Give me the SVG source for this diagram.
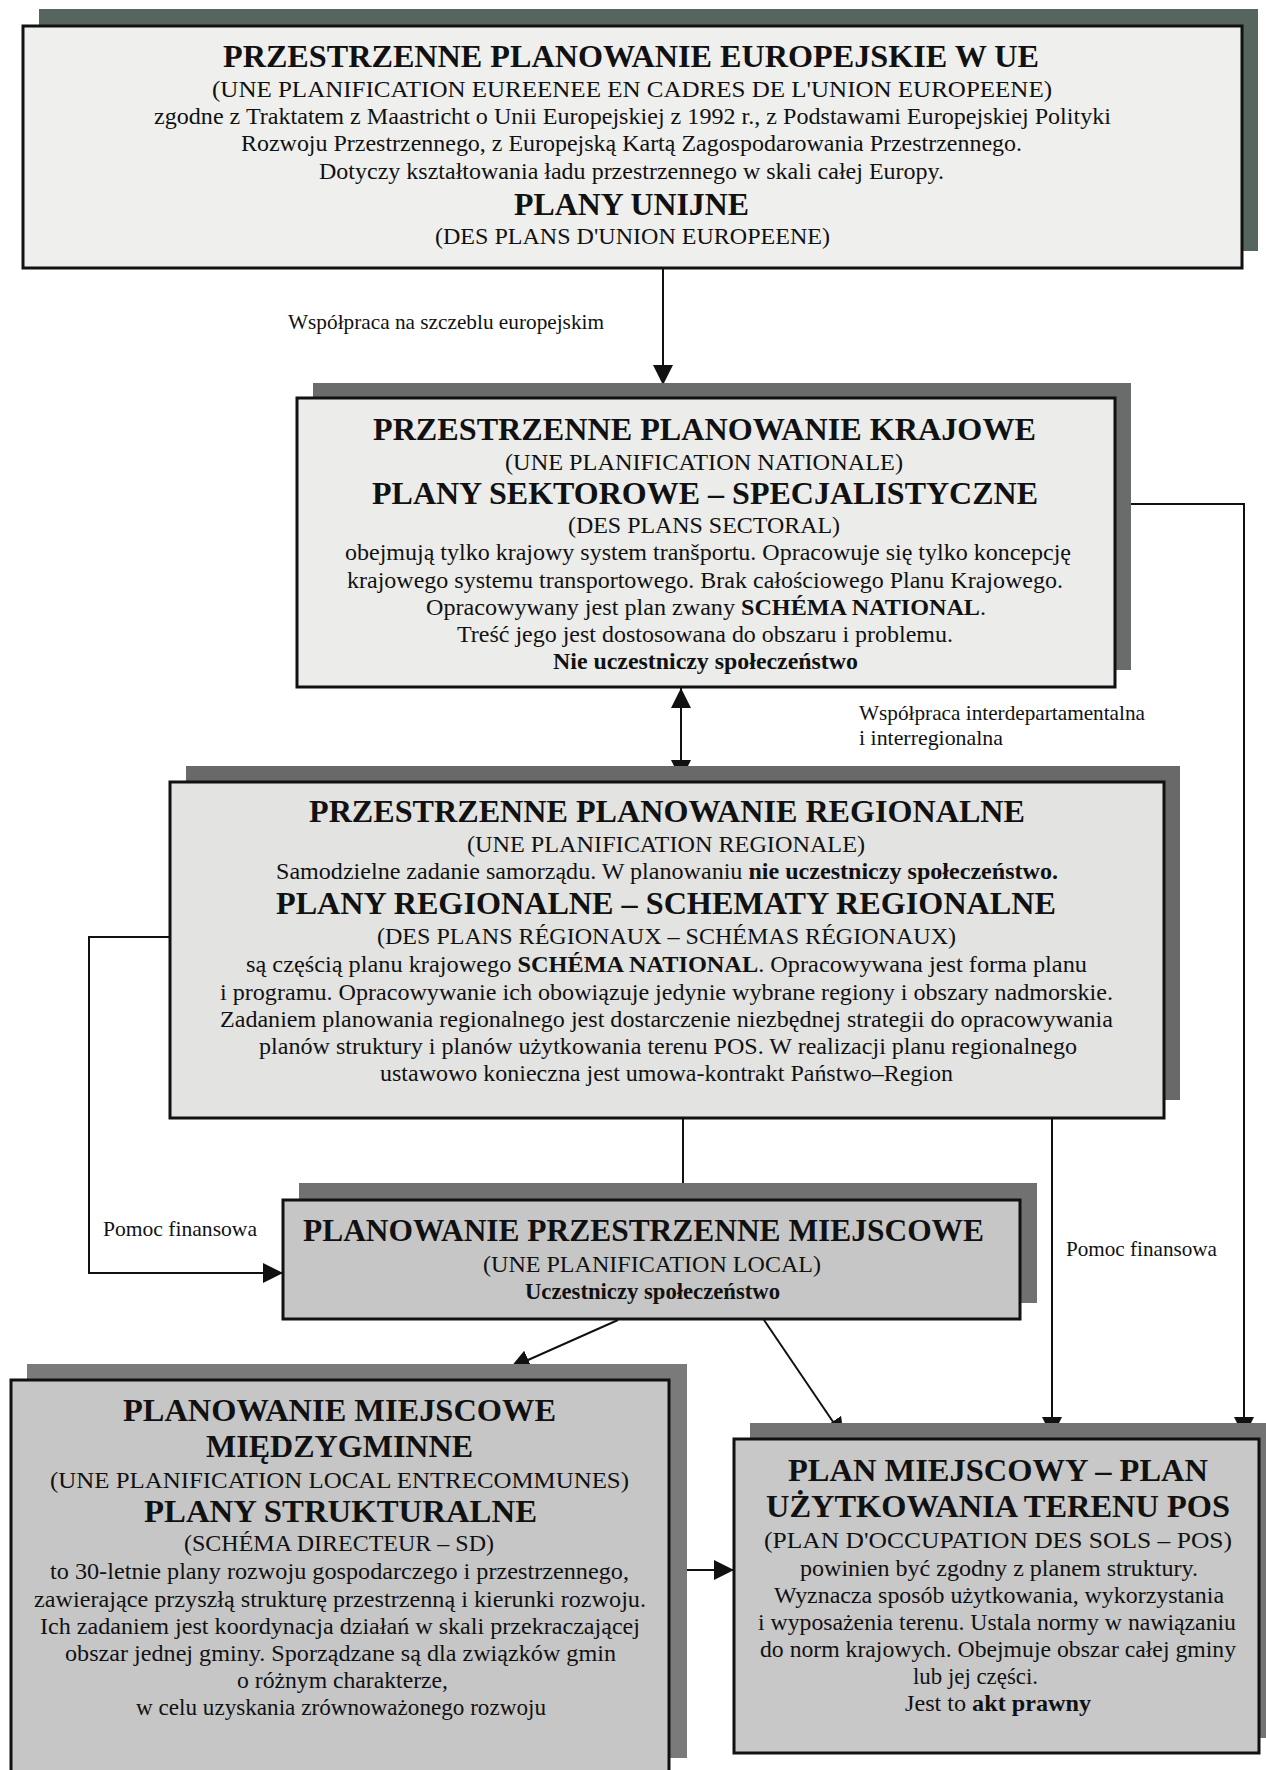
<svg xmlns="http://www.w3.org/2000/svg" width="1266" height="1770" viewBox="0 0 1266 1770">
<defs>
<style>
text{font-family:'Liberation Serif','Times New Roman',Times,serif;fill:#111}
.t{font-size:32px;font-weight:bold}
.b{font-size:24px}
.l{font-size:21px}
.bb{font-weight:bold}
.box{stroke:#111;stroke-width:3}
.c{fill:none;stroke:#111;stroke-width:2}
</style>
<marker id="ah" viewBox="0 0 20 20" refX="20" refY="10" markerWidth="20" markerHeight="20" markerUnits="userSpaceOnUse" orient="auto-start-reverse">
<path d="M0,0 L20,10 L0,20 z" fill="#111"/>
</marker>
</defs>
<rect width="1266" height="1770" fill="#ffffff"/>

<g id="connectors">
<path class="c" d="M663,268 V385" marker-end="url(#ah)"/>
<path class="c" d="M1115,504 H1244 V1437" marker-end="url(#ah)"/>
<path class="c" d="M681,688 V780" marker-start="url(#ah)" marker-end="url(#ah)"/>
<path class="c" d="M170,937 H89 V1273 H283" marker-end="url(#ah)"/>
<path class="c" d="M683,1118 V1212" marker-end="url(#ah)"/>
<path class="c" d="M1052,1118 V1437" marker-end="url(#ah)"/>
<path class="c" d="M618,1320 L510,1368" marker-end="url(#ah)"/>
<path class="c" d="M764,1320 L844,1438" marker-end="url(#ah)"/>
<path class="c" d="M669,1570 H734" marker-end="url(#ah)"/>
<text class="l" x="288" y="329" textLength="316" lengthAdjust="spacingAndGlyphs">Współpraca na szczeblu europejskim</text>
<text class="l" x="859" y="720" textLength="286" lengthAdjust="spacingAndGlyphs">Współpraca interdepartamentalna</text>
<text class="l" x="859" y="745" textLength="144" lengthAdjust="spacingAndGlyphs">i  interregionalna</text>
<text class="l" x="103" y="1236" textLength="154" lengthAdjust="spacingAndGlyphs">Pomoc finansowa</text>
<text class="l" x="1066" y="1256" textLength="151" lengthAdjust="spacingAndGlyphs">Pomoc finansowa</text>
</g>

<g id="node-eu">
<rect x="39" y="9" width="1219" height="242" fill="#56665f"/>
<rect class="box" x="23" y="26" width="1219" height="242" fill="#efefed"/>
<text class="t" x="223" y="67" textLength="816" lengthAdjust="spacingAndGlyphs">PRZESTRZENNE PLANOWANIE EUROPEJSKIE W UE</text>
<text class="b" x="212" y="97" textLength="840" lengthAdjust="spacingAndGlyphs">(UNE  PLANIFICATION  EUREENEE  EN  CADRES  DE L'UNION EUROPEENE)</text>
<text class="b" x="154" y="124" textLength="957" lengthAdjust="spacingAndGlyphs">zgodne z Traktatem z Maastricht o Unii Europejskiej z 1992 r., z Podstawami Europejskiej Polityki</text>
<text class="b" x="241" y="151" textLength="781" lengthAdjust="spacingAndGlyphs">Rozwoju Przestrzennego, z Europejską Kartą Zagospodarowania Przestrzennego.</text>
<text class="b" x="319" y="179" textLength="625" lengthAdjust="spacingAndGlyphs">Dotyczy kształtowania ładu przestrzennego w skali całej Europy.</text>
<text class="t" x="514" y="215" textLength="235" lengthAdjust="spacingAndGlyphs">PLANY UNIJNE</text>
<text class="b" x="435" y="244" textLength="395" lengthAdjust="spacingAndGlyphs">(DES PLANS D'UNION EUROPEENE)</text>
</g>

<g id="node-national">
<rect x="313" y="383" width="818" height="287" fill="#696c6a"/>
<rect class="box" x="297" y="398" width="818" height="289" fill="#ececea"/>
<text class="t" x="373" y="440" textLength="663" lengthAdjust="spacingAndGlyphs">PRZESTRZENNE PLANOWANIE KRAJOWE</text>
<text class="b" x="505" y="470" textLength="398" lengthAdjust="spacingAndGlyphs">(UNE PLANIFICATION NATIONALE)</text>
<text class="t" x="372" y="504" textLength="666" lengthAdjust="spacingAndGlyphs">PLANY SEKTOROWE – SPECJALISTYCZNE</text>
<text class="b" x="568" y="533" textLength="272" lengthAdjust="spacingAndGlyphs">(DES PLANS SECTORAL)</text>
<text class="b" x="345" y="560" textLength="726" lengthAdjust="spacingAndGlyphs">obejmują tylko krajowy system tranšportu. Opracowuje się tylko koncepcję</text>
<text class="b" x="347" y="588" textLength="716" lengthAdjust="spacingAndGlyphs">krajowego systemu transportowego. Brak całościowego Planu Krajowego.</text>
<text class="b" x="426" y="615" textLength="560" lengthAdjust="spacingAndGlyphs">Opracowywany jest plan zwany <tspan class="bb">SCHÉMA NATIONAL</tspan>.</text>
<text class="b" x="457" y="642" textLength="496" lengthAdjust="spacingAndGlyphs">Treść jego jest dostosowana do obszaru i problemu.</text>
<text class="b bb" x="553" y="669" textLength="305" lengthAdjust="spacingAndGlyphs">Nie uczestniczy społeczeństwo</text>
</g>

<g id="node-regional">
<rect x="186" y="766" width="994" height="334" fill="#696969"/>
<rect class="box" x="170" y="782" width="994" height="336" fill="#e3e3e1"/>
<text class="t" x="309" y="822" textLength="716" lengthAdjust="spacingAndGlyphs">PRZESTRZENNE PLANOWANIE REGIONALNE</text>
<text class="b" x="467" y="852" textLength="398" lengthAdjust="spacingAndGlyphs">(UNE PLANIFICATION REGIONALE)</text>
<text class="b" x="276" y="879" textLength="782" lengthAdjust="spacingAndGlyphs">Samodzielne zadanie samorządu. W planowaniu <tspan class="bb">nie uczestniczy społeczeństwo.</tspan></text>
<text class="t" x="276" y="914" textLength="780" lengthAdjust="spacingAndGlyphs">PLANY REGIONALNE – SCHEMATY REGIONALNE</text>
<text class="b" x="377" y="944" textLength="579" lengthAdjust="spacingAndGlyphs">(DES PLANS RÉGIONAUX – SCHÉMAS RÉGIONAUX)</text>
<text class="b" x="246" y="972" textLength="841" lengthAdjust="spacingAndGlyphs">są  częścią planu krajowego <tspan class="bb">SCHÉMA NATIONAL</tspan>. Opracowywana jest forma planu</text>
<text class="b" x="220" y="1000" textLength="893" lengthAdjust="spacingAndGlyphs">i programu. Opracowywanie ich obowiązuje jedynie wybrane regiony i obszary nadmorskie.</text>
<text class="b" x="220" y="1027" textLength="893" lengthAdjust="spacingAndGlyphs">Zadaniem planowania regionalnego jest dostarczenie niezbędnej strategii do opracowywania</text>
<text class="b" x="259" y="1054" textLength="818" lengthAdjust="spacingAndGlyphs">planów struktury i planów użytkowania terenu POS. W realizacji planu regionalnego</text>
<text class="b" x="380" y="1081" textLength="573" lengthAdjust="spacingAndGlyphs">ustawowo konieczna jest umowa-kontrakt Państwo–Region</text>
</g>

<g id="node-local">
<rect x="299" y="1183" width="738" height="120" fill="#717171"/>
<rect class="box" x="283" y="1200" width="737" height="119" fill="#c6c6c6"/>
<text class="t" x="303" y="1241" textLength="681" lengthAdjust="spacingAndGlyphs">PLANOWANIE PRZESTRZENNE MIEJSCOWE</text>
<text class="b" x="483" y="1272" textLength="338" lengthAdjust="spacingAndGlyphs">(UNE  PLANIFICATION  LOCAL)</text>
<text class="b bb" x="525" y="1299" textLength="255" lengthAdjust="spacingAndGlyphs">Uczestniczy społeczeństwo</text>
</g>

<g id="node-intercommunal">
<rect x="27" y="1364" width="660" height="394" fill="#7a7a7a"/>
<rect class="box" x="11" y="1380" width="658" height="410" fill="#c6c6c6"/>
<text class="t" x="123" y="1421" textLength="433" lengthAdjust="spacingAndGlyphs">PLANOWANIE MIEJSCOWE</text>
<text class="t" x="206" y="1457" textLength="267" lengthAdjust="spacingAndGlyphs">MIĘDZYGMINNE</text>
<text class="b" x="50" y="1488" textLength="579" lengthAdjust="spacingAndGlyphs">(UNE  PLANIFICATION  LOCAL ENTRECOMMUNES)</text>
<text class="t" x="144" y="1522" textLength="393" lengthAdjust="spacingAndGlyphs">PLANY  STRUKTURALNE</text>
<text class="b" x="184" y="1551" textLength="310" lengthAdjust="spacingAndGlyphs">(SCHÉMA DIRECTEUR – SD)</text>
<text class="b" x="50" y="1579" textLength="579" lengthAdjust="spacingAndGlyphs">to 30-letnie plany rozwoju gospodarczego i przestrzennego,</text>
<text class="b" x="34" y="1607" textLength="612" lengthAdjust="spacingAndGlyphs">zawierające przyszłą strukturę przestrzenną i kierunki rozwoju.</text>
<text class="b" x="40" y="1634" textLength="600" lengthAdjust="spacingAndGlyphs">Ich zadaniem jest koordynacja działań w skali przekraczającej</text>
<text class="b" x="65" y="1661" textLength="551" lengthAdjust="spacingAndGlyphs">obszar jednej gminy. Sporządzane są dla związków gmin</text>
<text class="b" x="237" y="1688" textLength="211" lengthAdjust="spacingAndGlyphs">o różnym charakterze,</text>
<text class="b" x="136" y="1715" textLength="410" lengthAdjust="spacingAndGlyphs">w celu uzyskania zrównoważonego  rozwoju</text>
</g>

<g id="node-pos">
<rect x="750" y="1423" width="525" height="315" fill="#737373"/>
<rect class="box" x="734" y="1439" width="525" height="314" fill="#c8c8c8"/>
<text class="t" x="788" y="1481" textLength="420" lengthAdjust="spacingAndGlyphs">PLAN  MIEJSCOWY – PLAN</text>
<text class="t" x="766" y="1517" textLength="464" lengthAdjust="spacingAndGlyphs">UŻYTKOWANIA TERENU POS</text>
<text class="b" x="764" y="1548" textLength="468" lengthAdjust="spacingAndGlyphs">(PLAN  D'OCCUPATION  DES  SOLS – POS)</text>
<text class="b" x="800" y="1576" textLength="398" lengthAdjust="spacingAndGlyphs">powinien być zgodny z planem struktury.</text>
<text class="b" x="774" y="1603" textLength="450" lengthAdjust="spacingAndGlyphs">Wyznacza sposób użytkowania, wykorzystania</text>
<text class="b" x="758" y="1630" textLength="478" lengthAdjust="spacingAndGlyphs">i wyposażenia terenu. Ustala normy w nawiązaniu</text>
<text class="b" x="760" y="1657" textLength="476" lengthAdjust="spacingAndGlyphs">do norm krajowych. Obejmuje obszar całej gminy</text>
<text class="b" x="913" y="1684" textLength="125" lengthAdjust="spacingAndGlyphs">lub jej części.</text>
<text class="b" x="905" y="1711" textLength="186" lengthAdjust="spacingAndGlyphs">Jest to <tspan class="bb">akt prawny</tspan></text>
</g>
</svg>
